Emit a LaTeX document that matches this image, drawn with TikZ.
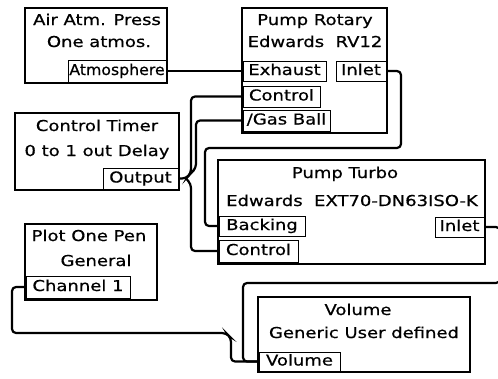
\documentclass[tikz,border=0pt]{standalone}
\usepackage{fontspec}
\setmainfont{DejaVu Sans}[FakeStretch=1.2,FakeBold=0.6]
\begin{document}
\begin{tikzpicture}[x=1pt,y=-1pt,
  mainbox/.style={draw=black,line width=2.2pt,fill=white,inner sep=0pt},
  port/.style={draw=black,line width=1pt,fill=white,inner sep=0pt,font=\fontsize{15}{18}\selectfont,text height=11pt,text depth=3pt},
  lbl/.style={inner sep=0pt,font=\fontsize{15}{18}\selectfont,text height=11pt,text depth=3pt},
  conn/.style={draw=black,line width=2.2pt,rounded corners=4pt}]
\useasboundingbox (0,0) rectangle (498,378);
% main boxes
\node[mainbox,minimum width=142pt,minimum height=75pt] (air) at (96,45.5) {};
\node[mainbox,minimum width=145pt,minimum height=125pt] (rot) at (314.5,70.5) {};
\node[mainbox,minimum width=164pt,minimum height=77pt] (timer) at (97,151.5) {};
\node[mainbox,minimum width=267pt,minimum height=104pt] (turbo) at (351.5,212) {};
\node[mainbox,minimum width=132pt,minimum height=76pt] (plot) at (91,262) {};
\node[mainbox,minimum width=212pt,minimum height=75pt] (vol) at (364,334.5) {};
% titles
\node[lbl] (airt1) at (97,21) {Air Atm. Press};
\node[lbl] (airt2) at (99,43) {One atmos.};
\node[lbl] (rott1) at (315,21) {Pump Rotary};
\node[lbl] (rott2) at (315,43) {Edwards\ \ RV12};
\node[lbl] (timt1) at (97,127) {Control Timer};
\node[lbl] (timt2) at (97,152) {0 to 1 out Delay};
\node[lbl] (turt1) at (345,174) {Pump Turbo};
\node[lbl] (turt2) at (352,202) {Edwards\ \ EXT70-DN63ISO-K};
\node[lbl] (plot1) at (89,237) {Plot One Pen};
\node[lbl] (plot2) at (96,262) {General};
\node[lbl] (volt1) at (358,311) {Volume};
\node[lbl] (volt2) at (364,334) {Generic User defined};
% ports
\node[port,minimum width=98pt,minimum height=22pt] (atm) at (117,71) {\addfontfeatures{FakeStretch=1.05}Atmosphere};
\node[port,minimum width=83pt,minimum height=20pt] (exh) at (284.5,71) {Exhaust};
\node[port,minimum width=50pt,minimum height=20pt] (inl) at (361,71) {Inlet};
\node[port,minimum width=77pt,minimum height=21pt] (rctl) at (281.5,96.5) {Control};
\node[port,minimum width=87pt,minimum height=21pt] (gas) at (286.5,120.5) {/Gas Ball};
\node[port,minimum width=75pt,minimum height=21pt] (out) at (140.5,178.5) {Output};
\node[port,minimum width=86pt,minimum height=20pt] (back) at (262,226) {Backing};
\node[port,minimum width=79pt,minimum height=22pt] (tctl) at (258.5,251) {Control};
\node[port,minimum width=49pt,minimum height=20pt] (tinl) at (459.5,227) {Inlet};
\node[port,minimum width=104pt,minimum height=22pt] (ch1) at (78,287) {Channel 1};
\node[port,minimum width=81pt,minimum height=19pt] (volp) at (299.5,361.5) {Volume};
% connectors
\coordinate (j) at (186,178.5);
\draw[conn] (atm.east) -- (exh.west);
\draw[conn] (inl.east) -- (401,71) -- (401,148) -- (205,148) -- (205,226) -- (back.west);
\draw[conn] (out.east) -- (j) -- (191,173) -- (191,96.5) -- (rctl.west);
\draw[conn] (j) -- (191,173) -- (196,168) -- (196,120.5) -- (gas.west);
\draw[conn] (j) -- (191,184) -- (191,251) -- (tctl.west);
\draw[conn] (tinl.east) -- (500,227) -- (500,283) -- (243,283) -- (243,361.5) -- (volp.west);
\draw[conn] (ch1.west) -- (12,287) -- (12,333) -- (226,333) -- (231,338) -- (231,361.5) -- (volp.west);
\end{tikzpicture}
\end{document}
